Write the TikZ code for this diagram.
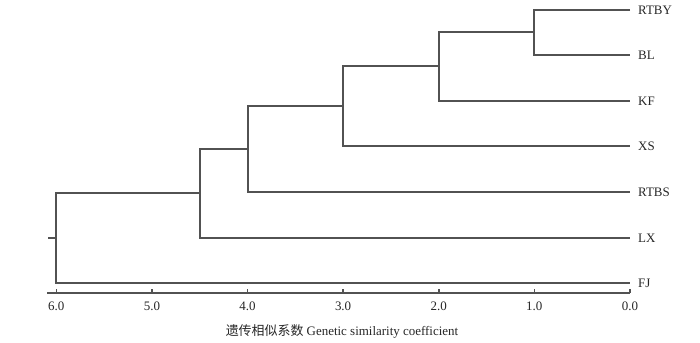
\documentclass[tikz,border=0pt]{standalone}
\usepackage{fontspec}
\setmainfont{Liberation Serif}
\newfontfamily\cjk{Noto Sans CJK SC}
\begin{document}
\begin{tikzpicture}[x=1bp,y=-1bp,
  branch/.style={draw=black!68,line width=1.6bp},
  leaflabel/.style={anchor=west,inner sep=0pt,text=black!85,font=\fontsize{13}{15}\selectfont},
  ticklabel/.style={inner sep=0pt,text=black!85,font=\fontsize{13}{15}\selectfont},
  axistitle/.style={inner sep=0pt,text=black!85,font=\fontsize{13}{15}\selectfont}]
\useasboundingbox (0,0) rectangle (700,342);
% leaf ends
\coordinate (eRTBY) at (630,10);
\coordinate (eBL) at (630,55);
\coordinate (eKF) at (630,101);
\coordinate (eXS) at (630,146);
\coordinate (eRTBS) at (630,192);
\coordinate (eLX) at (630,238);
\coordinate (eFJ) at (630,283);
% leaf labels
\node[leaflabel] (RTBY) at (638,10) {RTBY};
\node[leaflabel] (BL) at (638,55) {BL};
\node[leaflabel] (KF) at (638,101) {KF};
\node[leaflabel] (XS) at (638,146) {XS};
\node[leaflabel] (RTBS) at (638,192) {RTBS};
\node[leaflabel] (LX) at (638,238) {LX};
\node[leaflabel] (FJ) at (638,283) {FJ};
% internal nodes
\coordinate (n1) at (534,32);
\coordinate (n2) at (439,66);
\coordinate (n3) at (343,106);
\coordinate (n4) at (248,149);
\coordinate (n5) at (200,193);
\coordinate (n6) at (56,238);
\coordinate (stub) at (48,238);
% branches
\draw[branch] (eRTBY) -| (n1) |- (eBL);
\draw[branch] (n1) -| (n2) |- (eKF);
\draw[branch] (n2) -| (n3) |- (eXS);
\draw[branch] (n3) -| (n4) |- (eRTBS);
\draw[branch] (n4) -| (n5) |- (eLX);
\draw[branch] (n5) -| (n6) |- (eFJ);
\draw[branch] (n6) -- (stub);
% axis
\coordinate (axL) at (47,293);
\coordinate (axR) at (630,293);
\draw[branch] (axL) -- (axR);
\foreach \d/\lab in {6/6.0,5/5.0,4/4.0,3/3.0,2/2.0,1/1.0,0/0.0}{
  \pgfmathsetmacro{\xx}{56.3+(6-\d)*95.6}
  \coordinate (t\d) at (\xx,293);
  \draw[branch] (t\d) -- ++(0,-4);
  \node[ticklabel] (l\d) at (\xx,306.7) {\lab};
}
\node[axistitle] (title) at (342,331.7) {{\cjk 遗传相似系数} Genetic similarity coefficient};
\end{tikzpicture}
\end{document}
